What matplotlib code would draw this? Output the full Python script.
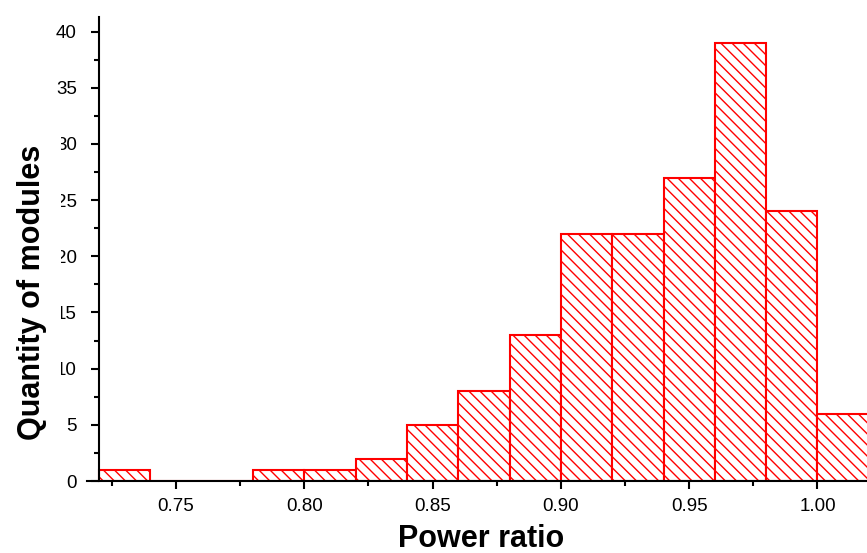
import numpy as np
import matplotlib
matplotlib.use("Agg")
import matplotlib.pyplot as plt
from matplotlib.ticker import MultipleLocator

# Data
bin_edges = [0.72, 0.74, 0.76, 0.78, 0.80, 0.82, 0.84, 0.86, 0.88, 0.90,
             0.92, 0.94, 0.96, 0.98, 1.00, 1.02]
counts = [1, 0, 0, 1, 1, 2, 5, 8, 13, 22, 22, 27, 39, 24, 6]
x_ticks = [0.75, 0.80, 0.85, 0.90, 0.95, 1.00]
x_tick_labels = ["0.75", "0.80", "0.85", "0.90", "0.95", "1.00"]
y_ticks = [0, 5, 10, 15, 20, 25, 30, 35, 40]

plt.rcParams['font.family'] = ['Liberation Sans', 'DejaVu Sans']
plt.rcParams['hatch.linewidth'] = 1.0
plt.rcParams['hatch.color'] = 'red'

fig = plt.figure(figsize=(8.67, 5.53), dpi=100)
ax = fig.add_axes([87/867, 72/553, (867-87)/867, (481-17)/553])

edges = np.array(bin_edges)
widths = np.diff(edges)
ax.bar(edges[:-1], counts, width=widths, align='edge', facecolor='white',
       edgecolor='red', linewidth=1.5, hatch='\\\\\\', zorder=2)

ax.set_xlim(0.7153, 1.0193)
ax.set_ylim(0, 41.3)
ax.spines['left'].set_position(('data', 0.72))
ax.spines['top'].set_visible(False)
ax.spines['right'].set_visible(False)
for s in ('left', 'bottom'):
    ax.spines[s].set_linewidth(1.5)
    ax.spines[s].set_zorder(3)

ax.set_xticks(x_ticks)
ax.set_xticklabels(x_tick_labels)
ax.xaxis.set_minor_locator(MultipleLocator(0.025))
ax.set_yticks(y_ticks)
ax.yaxis.set_minor_locator(MultipleLocator(2.5))
ax.tick_params(which='major', direction='out', length=6, width=1.5,
               labelsize=13.5, colors='black')
ax.tick_params(axis='x', which='major', pad=6)
ax.tick_params(axis='y', which='major', pad=10)
ax.tick_params(which='minor', direction='out', length=3.5, width=1.5)

ax.set_xlabel("Power ratio", fontsize=22, fontweight='bold')
ax.xaxis.set_label_coords((481-87)/780, (481-524)/464)
ax.set_ylabel("Quantity of modules", fontsize=22, fontweight='bold',
              bbox=dict(facecolor='white', edgecolor='none', pad=10))
ax.yaxis.set_label_coords((47-87)/780, (481-292)/464)

fig.savefig("out.png", dpi=100)
